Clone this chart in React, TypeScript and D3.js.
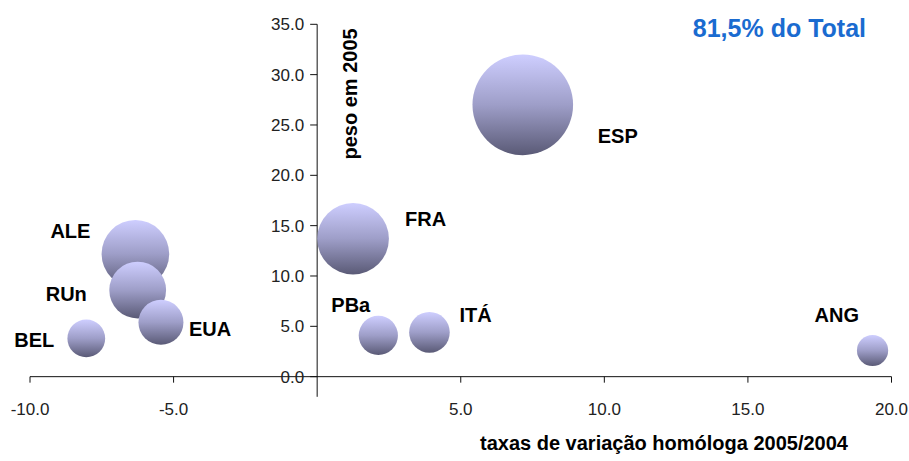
import React, { useEffect, useRef } from 'react';
import * as d3 from 'd3';

// países e valores
const paises = ['ESP', 'FRA', 'ALE', 'RUn', 'EUA', 'BEL', 'PBa', 'ITÁ', 'ANG'];
const taxaVariacao = [7.16, 1.25, -6.33, -6.25, -5.44, -8.04, 2.13, 3.91, 19.34];
const peso2005 = [27.0, 13.7, 12.2, 8.6, 5.4, 3.8, 4.1, 4.4, 2.6];

const xTicks = [-10, -5, 5, 10, 15, 20];
const yTicks = [0, 5, 10, 15, 20, 25, 30, 35];

// deslocamento dos rótulos (px) em relação ao centro da bolha
const labelOffset: [number, number][] = [
  [75, 38],
  [52, -13],
  [-85, -16],
  [-92, 11],
  [28, 14],
  [-72, 9],
  [-47, -23],
  [30, -10],
  [-58, -28],
];

// formato tipo Excel: hífen normal no sinal negativo
const fmt = (v: number) => d3.format('.1f')(v).replace('\u2212', '-');

const App: React.FC = () => {
  const svgRef = useRef<SVGSVGElement>(null);

  useEffect(() => {
    if (!svgRef.current) return;
    const svg = d3.select(svgRef.current);
    svg.selectAll('*').remove();

    const x = d3.scaleLinear().domain([-10, 20]).range([30, 891.5]);
    const y = d3.scaleLinear().domain([-2, 35]).range([396.8, 24.3]);
    const r = d3.scaleSqrt().domain([0, 27]).range([0, 50.3]);

    const defs = svg.append('defs');
    const grad = defs
      .append('linearGradient')
      .attr('id', 'bolha')
      .attr('x1', 0)
      .attr('y1', 0)
      .attr('x2', 0)
      .attr('y2', 1);
    grad.append('stop').attr('offset', '0%').attr('stop-color', '#ceceff');
    grad.append('stop').attr('offset', '50%').attr('stop-color', '#9e9ec8');
    grad.append('stop').attr('offset', '100%').attr('stop-color', '#5a5a76');

    const tickFont = '"Liberation Sans", Arial, sans-serif';

    // eixo x (cruza em y = 0)
    const gx = svg.append('g').attr('transform', `translate(0,${y(0)})`);
    gx.append('line')
      .attr('x1', x(-10))
      .attr('x2', x(20))
      .attr('stroke', '#111')
      .attr('stroke-width', 1);
    gx.selectAll('.xt')
      .data(xTicks)
      .enter()
      .append('line')
      .attr('x1', (d) => x(d))
      .attr('x2', (d) => x(d))
      .attr('y1', 0)
      .attr('y2', 6)
      .attr('stroke', '#111');
    gx.selectAll('.xl')
      .data(xTicks)
      .enter()
      .append('text')
      .attr('x', (d) => x(d))
      .attr('y', 38)
      .attr('text-anchor', 'middle')
      .attr('font-family', tickFont)
      .attr('font-size', 17)
      .attr('fill', '#222')
      .text((d) => fmt(d));

    // eixo y (cruza em x = 0)
    const gy = svg.append('g').attr('transform', `translate(${x(0)},0)`);
    gy.append('line')
      .attr('y1', y(35))
      .attr('y2', y(-2))
      .attr('stroke', '#111')
      .attr('stroke-width', 1);
    gy.selectAll('.yt')
      .data(yTicks)
      .enter()
      .append('line')
      .attr('x1', -7)
      .attr('x2', 0)
      .attr('y1', (d) => y(d))
      .attr('y2', (d) => y(d))
      .attr('stroke', '#111');
    gy.selectAll('.yl')
      .data(yTicks)
      .enter()
      .append('text')
      .attr('x', -13)
      .attr('y', (d) => y(d))
      .attr('dy', '0.35em')
      .attr('text-anchor', 'end')
      .attr('font-family', tickFont)
      .attr('font-size', 17)
      .attr('fill', '#222')
      .text((d) => fmt(d));

    // bolhas: maiores primeiro
    const dados = paises.map((p, i) => ({
      pais: p,
      x: taxaVariacao[i],
      y: peso2005[i],
      off: labelOffset[i],
    }));
    const ordenados = [...dados].sort((a, b) => b.y - a.y);

    svg
      .append('g')
      .selectAll('circle')
      .data(ordenados)
      .enter()
      .append('circle')
      .attr('cx', (d) => x(d.x))
      .attr('cy', (d) => y(d.y))
      .attr('r', (d) => r(d.y))
      .attr('fill', 'url(#bolha)');

    svg
      .append('g')
      .selectAll('text')
      .data(dados)
      .enter()
      .append('text')
      .attr('x', (d) => x(d.x) + d.off[0])
      .attr('y', (d) => y(d.y) + d.off[1])
      .attr('font-family', 'Arial, "Liberation Sans", sans-serif')
      .attr('font-weight', 'bold')
      .attr('font-size', 20)
      .attr('fill', '#000')
      .text((d) => d.pais);

    // títulos
    svg
      .append('text')
      .attr('transform', `translate(${x(0) + 40},${y(35) + 4}) rotate(-90)`)
      .attr('text-anchor', 'end')
      .attr('font-family', 'Arial, "Liberation Sans", sans-serif')
      .attr('font-weight', 'bold')
      .attr('font-size', 20)
      .text('peso em 2005');

    svg
      .append('text')
      .attr('x', 664)
      .attr('y', 450)
      .attr('text-anchor', 'middle')
      .attr('font-family', 'Arial, "Liberation Sans", sans-serif')
      .attr('font-weight', 'bold')
      .attr('font-size', 20)
      .text('taxas de variação homóloga 2005/2004');

    svg
      .append('text')
      .attr('x', 866)
      .attr('y', 37)
      .attr('text-anchor', 'end')
      .attr('font-family', 'Arial, "Liberation Sans", sans-serif')
      .attr('font-weight', 'bold')
      .attr('font-size', 25)
      .attr('fill', '#1a6bd0')
      .text('81,5% do Total');
  }, []);

  return (
    <svg
      ref={svgRef}
      width={909}
      height={461}
      style={{ position: 'absolute', left: 0, top: 0, background: '#fff' }}
    />
  );
};

export default App;
